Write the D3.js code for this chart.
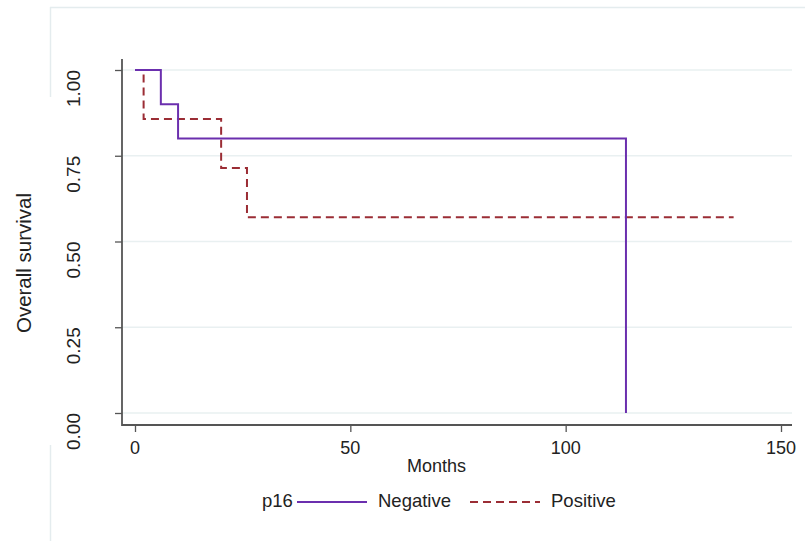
<!DOCTYPE html>
<html>
<head>
<meta charset="utf-8">
<script src="https://cdn.jsdelivr.net/npm/d3@7/dist/d3.min.js"></script>
<style>
  html, body { margin: 0; padding: 0; background: #fff; }
  svg { display: block; }
</style>
</head>
<body>
<svg id="chart" width="805" height="541"></svg>
<script>
// Kaplan–Meier overall survival by p16 status
const monthTicks = [0, 50, 100, 150];
const survivalTicks = [0, 0.25, 0.5, 0.75, 1];
const survivalTickLabels = ["0.00", "0.25", "0.50", "0.75", "1.00"];

const negativeMonths = [0, 6, 10, 114];
const negativeSurvival = [1, 0.9, 0.8, 0];

const positiveMonths = [0, 2, 20, 26, 139];
const positiveSurvival = [1, 0.857, 0.714, 0.571, 0.571];

const groups = ["Negative", "Positive"];
const legendTitle = "p16";
const xTitle = "Months";
const yTitle = "Overall survival";

const colors = { Negative: "#6b2fae", Positive: "#9b2d35" };
const dashes = { Negative: null, Positive: "8,5" };

const svg = d3.select("#chart");
const W = 805, H = 541;

const x = d3.scaleLinear().domain([0, 150]).range([135, 781]);
const y = d3.scaleLinear().domain([0, 1]).range([413, 70]);

const plotLeft = 122, plotRight = 792;
const plotTop = y(1) - 11, plotBottom = y(0) + 12;

const sansFont = "'Liberation Sans', Arial, sans-serif";

// faint outer frame
const frameColor = "#e4ecee";
svg.append("line").attr("x1", 50).attr("x2", W).attr("y1", 7.5).attr("y2", 7.5)
  .attr("stroke", frameColor).attr("stroke-width", 1.5);
svg.append("line").attr("x1", 50.5).attr("x2", 50.5).attr("y1", 7).attr("y2", 97)
  .attr("stroke", frameColor).attr("stroke-width", 1.5);
svg.append("line").attr("x1", 50.5).attr("x2", 50.5).attr("y1", 445).attr("y2", H)
  .attr("stroke", frameColor).attr("stroke-width", 1.5);

// horizontal gridlines
svg.append("g").selectAll("line").data(survivalTicks).join("line")
  .attr("x1", plotLeft).attr("x2", plotRight)
  .attr("y1", d => y(d)).attr("y2", d => y(d))
  .attr("stroke", "#e9f0f1").attr("stroke-width", 1.5);

// survival step curves
const series = [
  { name: "Negative", pts: negativeMonths.map((m, i) => [m, negativeSurvival[i]]) },
  { name: "Positive", pts: positiveMonths.map((m, i) => [m, positiveSurvival[i]]) }
];
const line = d3.line().x(d => x(d[0])).y(d => y(d[1])).curve(d3.curveStepAfter);

// draw Positive first so the solid line sits on top where they overlap
[series[1], series[0]].forEach(s => {
  svg.append("path")
    .attr("d", line(s.pts))
    .attr("fill", "none")
    .attr("stroke", colors[s.name])
    .attr("stroke-width", 2)
    .attr("stroke-dasharray", dashes[s.name]);
});

// axes
const axisColor = "#555";
const yAxis = svg.append("g").attr("transform", `translate(${plotLeft},0)`)
  .call(d3.axisLeft(y).tickValues(survivalTicks).tickSize(7).tickFormat(""));
yAxis.select(".domain").remove();
yAxis.selectAll(".tick line").attr("stroke", axisColor).attr("stroke-width", 1.3);

const xAxis = svg.append("g").attr("transform", `translate(0,${plotBottom})`)
  .call(d3.axisBottom(x).tickValues(monthTicks).tickSize(7).tickFormat(""));
xAxis.select(".domain").remove();
xAxis.selectAll(".tick line").attr("stroke", axisColor).attr("stroke-width", 1.3);

svg.append("line").attr("x1", plotLeft).attr("x2", plotLeft)
  .attr("y1", plotTop).attr("y2", plotBottom + 1)
  .attr("stroke", axisColor).attr("stroke-width", 1.8);
svg.append("line").attr("x1", plotLeft).attr("x2", plotRight)
  .attr("y1", plotBottom).attr("y2", plotBottom)
  .attr("stroke", axisColor).attr("stroke-width", 1.8);

// y tick labels (rotated)
svg.append("g").selectAll("text").data(survivalTicks).join("text")
  .attr("transform", d => `translate(73.5,${y(d)}) rotate(-90)`)
  .attr("text-anchor", "end")
  .attr("dominant-baseline", "central")
  .attr("font-family", sansFont)
  .attr("font-size", 19)
  .attr("fill", "#222")
  .text((d, i) => survivalTickLabels[i]);

// x tick labels
svg.append("g").selectAll("text").data(monthTicks).join("text")
  .attr("x", d => x(d)).attr("y", 454)
  .attr("text-anchor", "middle")
  .attr("font-family", sansFont)
  .attr("font-size", 18)
  .attr("fill", "#222")
  .text(d => d);

// axis titles
svg.append("text")
  .attr("x", x(70)).attr("y", 472)
  .attr("text-anchor", "middle")
  .attr("font-family", sansFont)
  .attr("font-size", 18).attr("fill", "#222")
  .text(xTitle);

svg.append("text")
  .attr("transform", `translate(23,263) rotate(-90)`)
  .attr("text-anchor", "middle")
  .attr("dominant-baseline", "central")
  .attr("font-family", sansFont)
  .attr("font-size", 20.5).attr("fill", "#222")
  .text(yTitle);

// legend
const legend = svg.append("g");
legend.append("text").attr("x", 262).attr("y", 507)
  .attr("font-family", sansFont).attr("font-size", 18.5).attr("fill", "#222")
  .text(legendTitle);
const legendX = { Negative: 297, Positive: 470 };
groups.forEach(g => {
  const lx = legendX[g];
  legend.append("line").attr("x1", lx).attr("x2", lx + 70)
    .attr("y1", 502).attr("y2", 502)
    .attr("stroke", colors[g]).attr("stroke-width", 2)
    .attr("stroke-dasharray", dashes[g]);
  legend.append("text").attr("x", lx + 81).attr("y", 507)
    .attr("font-family", sansFont).attr("font-size", 18.5).attr("fill", "#222")
    .text(g);
});
</script>
</body>
</html>
